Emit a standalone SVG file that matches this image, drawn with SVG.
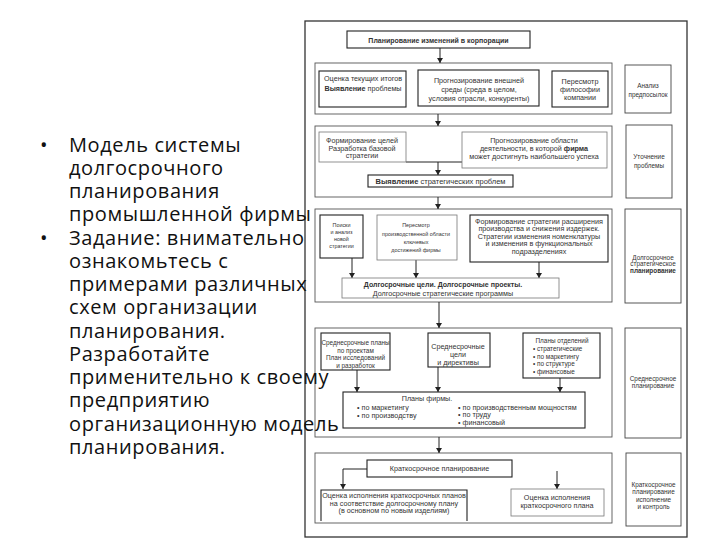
<svg xmlns="http://www.w3.org/2000/svg" width="720" height="540" viewBox="0 0 720 540">
<defs>
<marker id="ah" markerWidth="5" markerHeight="6" refX="5" refY="3" orient="auto" markerUnits="userSpaceOnUse">
<path d="M0,0 L5,3 L0,6 z" fill="#222"/>
</marker>
<style>
.frame{fill:none;stroke:#333;stroke-width:1.3}
.cont{fill:#fff;stroke:#555;stroke-width:0.9}
.box{fill:#fff;stroke:#222;stroke-width:1.1}
.side{fill:#fff;stroke:#444;stroke-width:0.9}
.lite{fill:#fff;stroke:#777;stroke-width:0.8}
.con{fill:none;stroke:#222;stroke-width:1}
.t{font-family:"Liberation Sans",Arial,sans-serif;font-size:7.2px;fill:#333;text-anchor:middle}
.s{font-size:5.4px}
.m{font-size:6.4px}
.l{text-anchor:start}
.bd{font-weight:bold}
.b{font-family:"Open Sans","Liberation Sans",sans-serif;font-size:20px;letter-spacing:0.6px;fill:#111}
</style>
</defs>
<rect width="720" height="540" fill="#fff"/>
<rect class="frame" x="305" y="21" width="382" height="516"/>

<g id="containers">
<rect class="cont" x="315" y="63" width="297" height="51"/>
<rect class="cont" x="315" y="126" width="297" height="71"/>
<rect class="cont" x="315" y="209" width="297" height="93"/>
<rect class="cont" x="315" y="328" width="297" height="109"/>
<rect class="cont" x="315" y="453" width="297" height="70"/>
</g>

<g id="connectors">
<line class="con" x1="440" y1="48" x2="440" y2="63" marker-end="url(#ah)"/>
<line class="con" x1="438" y1="114" x2="438" y2="126" marker-end="url(#ah)"/>
<polyline class="con" points="406,162 462,162"/>
<line class="con" x1="438" y1="162" x2="438" y2="175" marker-end="url(#ah)"/>
<line class="con" x1="438" y1="197" x2="438" y2="209" marker-end="url(#ah)"/>
<line class="con" x1="352" y1="258" x2="352" y2="278" marker-end="url(#ah)"/>
<line class="con" x1="416" y1="260" x2="416" y2="278" marker-end="url(#ah)"/>
<line class="con" x1="539" y1="262" x2="539" y2="278" marker-end="url(#ah)"/>
<line class="con" x1="439" y1="302" x2="439" y2="328" marker-end="url(#ah)"/>
<line class="con" x1="357" y1="370" x2="357" y2="392" marker-end="url(#ah)"/>
<line class="con" x1="438" y1="367" x2="438" y2="392" marker-end="url(#ah)"/>
<line class="con" x1="560" y1="378" x2="560" y2="392" marker-end="url(#ah)"/>
<line class="con" x1="439" y1="437" x2="439" y2="453" marker-end="url(#ah)"/>
<polyline class="con" points="367,469 343,469 343,489" marker-end="url(#ah)"/>
<line class="con" x1="557" y1="471" x2="557" y2="489" marker-end="url(#ah)"/>
</g>

<g id="n-top">
<rect class="box" x="347" y="31" width="183" height="17"/>
<text class="t bd" x="438.5" y="42.5" style="font-size:7px">Планирование изменений в корпорации</text>
</g>

<g id="n-otsenka">
<rect class="box" x="319" y="71" width="87" height="36"/>
<text class="t" x="363" y="81">Оценка текущих итогов</text>
<text class="t" x="363" y="91"><tspan class="bd">Выявление</tspan> проблемы</text>
</g>
<g id="n-prognoz1">
<rect class="box" x="418" y="70" width="121" height="36"/>
<text class="t" x="479" y="83">Прогнозирование внешней</text>
<text class="t" x="479" y="92">среды (среда в целом,</text>
<text class="t" x="479" y="101">условия отрасли, конкуренты)</text>
</g>
<g id="n-filosofia">
<rect class="box" x="552" y="71" width="56" height="36"/>
<text class="t" x="580" y="84">Пересмотр</text>
<text class="t" x="580" y="92">философии</text>
<text class="t" x="580" y="100">компании</text>
</g>
<g id="n-analiz">
<rect class="side" x="625" y="65" width="46" height="48"/>
<text class="t m" x="648" y="88">Анализ</text>
<text class="t m" x="648" y="96.5">предпосылок</text>
</g>

<g id="n-tseli">
<rect class="lite" x="319" y="132" width="87" height="30"/>
<text class="t" x="362" y="143">Формирование целей</text>
<text class="t" x="362" y="150.5">Разработка базовой</text>
<text class="t" x="362" y="158">стратегии</text>
</g>
<g id="n-prognoz2">
<rect class="lite" x="462" y="132" width="145" height="36"/>
<text class="t" x="534" y="142.5">Прогнозирование области</text>
<text class="t" x="534" y="150.5">деятельности, в которой <tspan class="bd">фирма</tspan></text>
<text class="t" x="534" y="158.5">может достигнуть наибольшего успеха</text>
</g>
<g id="n-vyyavlenie">
<rect class="box" x="368" y="175" width="145" height="12"/>
<text class="t" x="440.5" y="183.8" style="font-size:7.5px"><tspan class="bd">Выявление</tspan> стратегических проблем</text>
</g>
<g id="n-utochnenie">
<rect class="side" x="626" y="125" width="46" height="73"/>
<text class="t m" x="649" y="159">Уточнение</text>
<text class="t m" x="649" y="167.5">проблемы</text>
</g>

<g id="n-poiski">
<rect class="box" x="320" y="215" width="43" height="43"/>
<text class="t s" x="341.5" y="226.5">Поиски</text>
<text class="t s" x="341.5" y="233.5">и анализ</text>
<text class="t s" x="341.5" y="240.5">новой</text>
<text class="t s" x="341.5" y="247.5">стратегии</text>
</g>
<g id="n-peresmotr">
<rect class="lite" x="377" y="215" width="80" height="45"/>
<text class="t s" x="416" y="227">Пересмотр</text>
<text class="t s" x="416" y="235.5">производственной области</text>
<text class="t s" x="416" y="243.5">ключевых</text>
<text class="t s" x="416" y="252">достижений фирмы</text>
</g>
<g id="n-formirovanie">
<rect class="box" x="470" y="215" width="138" height="47"/>
<text class="t" x="539" y="223.5">Формирование стратегии расширения</text>
<text class="t" x="539" y="231">производства и снижения издержек.</text>
<text class="t" x="539" y="238.5">Стратегии изменения номенклатуры</text>
<text class="t" x="539" y="246">и изменения в функциональных</text>
<text class="t" x="539" y="253.5">подразделениях</text>
</g>
<g id="n-dolgosrochnye">
<rect class="lite" x="342" y="278" width="217" height="20"/>
<text class="t bd" x="443" y="287" style="font-size:7px">Долгосрочные цели. Долгосрочные проекты.</text>
<text class="t" x="443" y="295.5">Долгосрочные стратегические программы</text>
</g>
<g id="n-dsp">
<rect class="side" x="625" y="209" width="56" height="94"/>
<text class="t m" x="653" y="259.5">Долгосрочное</text>
<text class="t m" x="653" y="266">стратегическое</text>
<text class="t m bd" x="653" y="272.5">планирование</text>
</g>

<g id="n-ssplany">
<rect class="box" x="321" y="333" width="69" height="37"/>
<text class="t m" x="355.5" y="344.5">Среднесрочные планы</text>
<text class="t m" x="355.5" y="352.5">по проектам</text>
<text class="t m" x="355.5" y="360.3">План исследований</text>
<text class="t m" x="355.5" y="368">и разработок</text>
</g>
<g id="n-sstseli">
<rect class="box" x="428" y="333" width="62" height="34"/>
<text class="t" x="458" y="349">Среднесрочные</text>
<text class="t" x="458" y="357">цели</text>
<text class="t" x="458" y="365">и директивы</text>
</g>
<g id="n-otdeleniya">
<rect class="box" x="523" y="333" width="77" height="45"/>
<text class="t m" x="562" y="342.5">Планы отделений</text>
<text class="t m l" x="533" y="350.5">• стратегические</text>
<text class="t m l" x="533" y="358.5">• по маркетингу</text>
<text class="t m l" x="533" y="366">• по структуре</text>
<text class="t m l" x="533" y="373.5">• финансовые</text>
</g>
<g id="n-planyfirmy">
<rect class="box" x="343" y="392" width="242" height="36"/>
<text class="t" x="427" y="401">Планы фирмы.</text>
<text class="t l" x="357" y="410">• по маркетингу</text>
<text class="t l" x="357" y="417.5">• по производству</text>
<text class="t l" x="458" y="409.5">• по производственным мощностям</text>
<text class="t l" x="458" y="417">• по труду</text>
<text class="t l" x="458" y="425">• финансовый</text>
</g>
<g id="n-ssp">
<rect class="side" x="625" y="328" width="56" height="110"/>
<text class="t m" x="653" y="381">Среднесрочное</text>
<text class="t m" x="653" y="388">планирование</text>
</g>

<g id="n-ksp">
<rect class="box" x="367" y="460" width="145" height="17"/>
<text class="t" x="439.5" y="471">Краткосрочное планирование</text>
</g>
<g id="n-otsenka2">
<path class="box" d="M321,521 V490 H467 V521"/>
<text class="t" x="394" y="498">Оценка исполнения краткосрочных планов</text>
<text class="t" x="394" y="505.5">на соответствие долгосрочному плану</text>
<text class="t" x="394" y="513">(в основном по новым изделиям)</text>
</g>
<g id="n-otsenka3">
<rect class="lite" x="511" y="489" width="93" height="27"/>
<text class="t" x="557" y="500">Оценка исполнения</text>
<text class="t" x="557" y="507.5">краткосрочного плана</text>
</g>
<g id="n-kspik">
<rect class="side" x="626" y="453" width="55" height="73"/>
<text class="t m" x="653.5" y="487">Краткосрочное</text>
<text class="t m" x="653.5" y="494.3">планирование</text>
<text class="t m" x="653.5" y="501.6">исполнение</text>
<text class="t m" x="653.5" y="509">и контроль</text>
</g>

<g id="bullets">
<text class="b" x="40" y="151.5">•</text>
<text class="b" x="69" y="151.5">Модель системы</text>
<text class="b" x="69" y="174.8">долгосрочного</text>
<text class="b" x="69" y="198">планирования</text>
<text class="b" x="69" y="221.3">промышленной фирмы</text>
<text class="b" x="40" y="244.5">•</text>
<text class="b" x="69" y="244.5">Задание: внимательно</text>
<text class="b" x="69" y="267.8">ознакомьтесь с</text>
<text class="b" x="69" y="291">примерами различных</text>
<text class="b" x="69" y="314.3">схем организации</text>
<text class="b" x="69" y="337.5">планирования.</text>
<text class="b" x="69" y="360.8">Разработайте</text>
<text class="b" x="69" y="384">применительно к своему</text>
<text class="b" x="69" y="407.3">предприятию</text>
<text class="b" x="69" y="430.5">организационную модель</text>
<text class="b" x="69" y="453.8">планирования.</text>
</g>
</svg>
